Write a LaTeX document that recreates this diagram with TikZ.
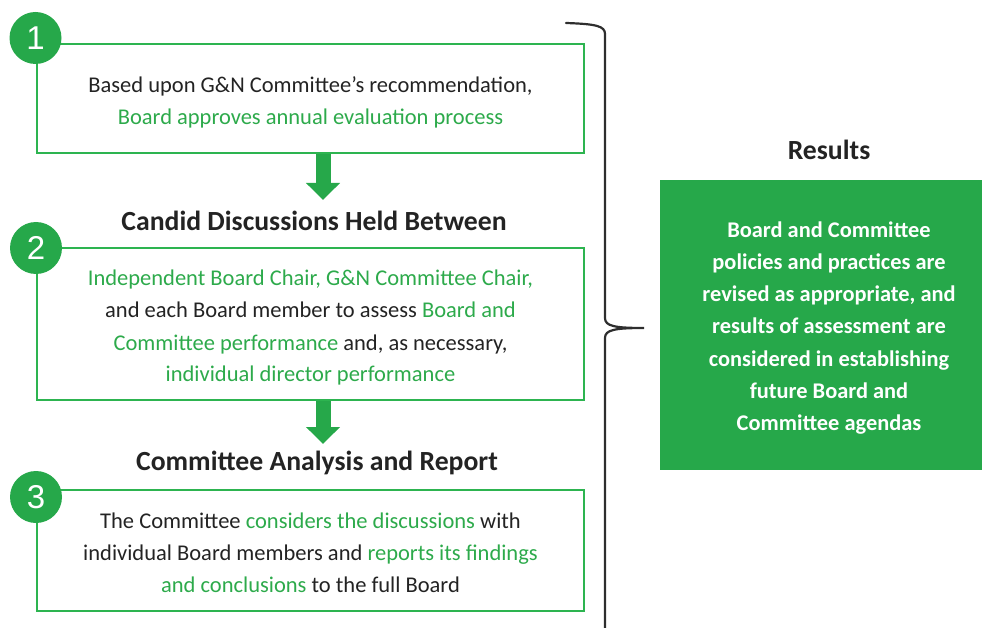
\documentclass[tikz,border=0pt]{standalone}
\usepackage{fontspec}
\setmainfont{Carlito}
\newfontfamily\numfont{Liberation Sans}
\usetikzlibrary{arrows.meta,positioning}
\definecolor{gnGreen}{RGB}{38,168,74}
\definecolor{gnLine}{RGB}{45,180,80}
\definecolor{gnText}{RGB}{45,170,75}
\definecolor{gnDark}{RGB}{35,35,35}
\newcommand{\gr}[1]{\textcolor{gnText}{#1}}

\tikzset{
  stepbox/.style={draw=gnLine, line width=2pt, minimum width=547pt, inner sep=0pt},
  boxtext/.style={align=center, text=gnDark, inner sep=0pt,
    font=\fontsize{22.5}{32}\selectfont},
  numdot/.style={circle, fill=gnGreen, minimum size=52pt, inner sep=0pt,
    text=white, font=\numfont\fontsize{33}{33}\selectfont},
  heading/.style={text=gnDark, font=\bfseries\fontsize{27.7}{30}\selectfont},
  flow/.style={gnGreen, line width=15pt, -{Triangle[width=33pt,length=17pt]}},
  braceline/.style={draw=gnDark!95, line width=2.2pt, line cap=round},
}

\begin{document}
\begin{tikzpicture}[x=1pt,y=-1pt]
  \useasboundingbox (0,0) rectangle (982,628);

  %% steps
  \node[stepbox, minimum height=109pt] (box1) at (310.5,98.5) {};
  \node[boxtext] (text1) at ([yshift=-4pt]box1.center)
    {Based upon G\&N Committee’s recommendation,\\
     \gr{Board approves annual evaluation process}};
  \node[heading] (title2) at (314,221) {Candid Discussions Held Between};
  \node[stepbox, minimum height=152pt] (box2) at (310.5,324) {};
  \node[boxtext] (text2) at ([yshift=-4pt]box2.center)
    {\gr{Independent Board Chair, G\&N Committee Chair,}\\
     and each Board member to assess \gr{Board and}\\
     \gr{Committee performance} and, as necessary,\\
     \gr{individual director performance}};
  \node[heading] (title3) at (317,463) {Committee Analysis and Report};
  \node[stepbox, minimum height=121pt] (box3) at (310.5,550.5) {};
  \node[boxtext] (text3) at ([yshift=-2pt]box3.center)
    {The Committee \gr{considers the discussions} with\\
     individual Board members and \gr{reports its findings}\\
     \gr{and conclusions} to the full Board};

  %% numbers
  \node[numdot] (num1) at (35.5,38) {1};
  \node[numdot] (num2) at (36,248) {2};
  \node[numdot] (num3) at (36,497) {3};

  %% arrows between steps
  \coordinate (a1s) at (box1.south -| 323,0);
  \coordinate (a1e) at (323,200);
  \coordinate (a2s) at (box2.south -| 323,0);
  \coordinate (a2e) at (323,444);
  \draw[flow] (a1s) -- (a1e);
  \draw[flow] (a2s) -- (a2e);

  %% brace
  \coordinate (tip) at (644,328);
  \draw[braceline] (566,23) .. controls (596,24) and (605,26) .. (605,34)
    -- (605,318) .. controls (605,326) and (614,328) .. (tip)
    .. controls (614,328) and (605,330) .. (605,338) -- (605,640);

  %% results
  \node[heading] (results) at (829,150) {Results};
  \node[fill=gnGreen, minimum width=338pt, minimum height=290pt]
    (resultbox) at (829,325) {};
  \node[align=center, text=white, inner sep=0pt,
    font=\bfseries\fontsize{22.4}{32.3}\selectfont]
    (resulttext) at ([yshift=-3pt]resultbox.center)
    {Board and Committee\\ policies and practices are\\ revised as appropriate, and\\
     results of assessment are\\ considered in establishing\\ future Board and\\
     Committee agendas};
\end{tikzpicture}
\end{document}
